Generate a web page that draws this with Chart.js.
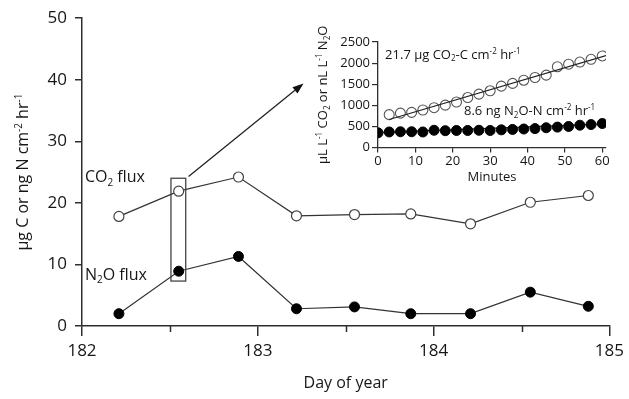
<!DOCTYPE html>
<html><head><meta charset="utf-8">
<script src="https://cdn.jsdelivr.net/npm/chart.js@4.4.0/dist/chart.umd.min.js"></script>
<style>
html,body{margin:0;padding:0;background:#fff;}
#wrap{position:relative;width:629px;height:399px;background:#fff;}
#main{position:absolute;left:0;top:0;}
#inset{position:absolute;left:300px;top:20px;}
</style></head><body>
<div id="wrap"><canvas id="main" width="629" height="399"></canvas><canvas id="inset" width="320" height="180"></canvas></div>
<script>
// ---- main chart data ----
const dayOfYear = [182.21, 182.55, 182.89, 183.22, 183.55, 183.87, 184.21, 184.55, 184.88];
const co2Flux   = [17.8, 21.9, 24.2, 17.9, 18.1, 18.2, 16.6, 20.1, 21.2];
const n2oFlux   = [2.0, 8.9, 11.3, 2.8, 3.1, 2.0, 2.0, 5.5, 3.2];
const mainXTicks = [182, 183, 184, 185];
const mainXMinorTicks = [182.5, 183.5, 184.5];
const mainYTicks = [0, 10, 20, 30, 40, 50];

// ---- inset data ----
const insetMinutesCO2 = [3, 6, 9, 12, 15, 18, 21, 24, 27, 30, 33, 36, 39, 42, 45, 48, 51, 54, 57, 60];
const insetCO2 = [780, 815, 835, 890, 945, 1005, 1080, 1185, 1265, 1345, 1455, 1520, 1595, 1660, 1715, 1915, 1975, 2025, 2090, 2170];
const insetMinutesN2O = [0, 3, 6, 9, 12, 15, 18, 21, 24, 27, 30, 33, 36, 39, 42, 45, 48, 51, 54, 57, 60];
const insetN2O = [350, 370, 375, 375, 370, 410, 400, 405, 405, 410, 405, 420, 430, 440, 450, 470, 485, 500, 530, 545, 570];
const co2FitMinutes = [3, 61];
const co2FitValues = [665, 2180];
const n2oFitMinutes = [0, 61];
const n2oFitValues = [355, 560];
const insetXTicks = [0, 10, 20, 30, 40, 50, 60];
const insetYTicks = [0, 500, 1000, 1500, 2000, 2500];

const FONT = "'Open Sans', 'Liberation Sans', sans-serif";
const INK = '#161616';
const AXIS = '#2e2e2e';

function pts(xs, ys) { return xs.map((x, i) => ({x: x, y: ys[i]})); }

// rich text: segments [text, mode] mode 0 normal, 1 subscript, 2 superscript
function drawRich(ctx, segs, x, y, size, align) {
  const small = size * 0.62;
  let w = 0;
  segs.forEach(([t, m]) => { ctx.font = (m ? small : size) + 'px ' + FONT; w += ctx.measureText(t).width; });
  let cx = align === 'center' ? x - w / 2 : x;
  ctx.textBaseline = 'alphabetic';
  ctx.textAlign = 'left';
  ctx.fillStyle = INK;
  segs.forEach(([t, m]) => {
    ctx.font = (m ? small : size) + 'px ' + FONT;
    const dy = m === 1 ? size * 0.22 : (m === 2 ? -size * 0.38 : 0);
    ctx.fillText(t, cx, y + dy);
    cx += ctx.measureText(t).width;
  });
}

// ---- main chart annotations (data coords) ----
const mainNotes = {
  co2Label: {x: 182.017, y: 24.3, segs: [['CO', 0], ['2', 1], [' flux', 0]]},
  n2oLabel: {x: 182.017, y: 8.5, segs: [['N', 0], ['2', 1], ['O flux', 0]]},
  box: {x0: 182.506, x1: 182.59, y0: 7.3, y1: 24.0},
  arrow: {x0: 182.606, y0: 24.3, x1: 183.26, y1: 39.4}
};

const mainPlugin = {
  id: 'mainPlugin',
  afterDraw(chart) {
    const ctx = chart.ctx, xs = chart.scales.x, ys = chart.scales.y;
    ctx.save();
    ctx.strokeStyle = AXIS; ctx.lineWidth = 1.5;
    mainXMinorTicks.forEach(v => {
      const px = Math.round(xs.getPixelForValue(v)) + 0.5;
      ctx.beginPath(); ctx.moveTo(px, ys.bottom); ctx.lineTo(px, ys.bottom + 6); ctx.stroke();
    });
    const b = mainNotes.box;
    ctx.lineWidth = 1.3; ctx.strokeStyle = '#444';
    const bx0 = xs.getPixelForValue(b.x0), bx1 = xs.getPixelForValue(b.x1);
    const by0 = ys.getPixelForValue(b.y0), by1 = ys.getPixelForValue(b.y1);
    ctx.strokeRect(bx0, by1, bx1 - bx0, by0 - by1);
    const a = mainNotes.arrow;
    const ax0 = xs.getPixelForValue(a.x0), ay0 = ys.getPixelForValue(a.y0);
    const ax1 = xs.getPixelForValue(a.x1), ay1 = ys.getPixelForValue(a.y1);
    const ang = Math.atan2(ay1 - ay0, ax1 - ax0);
    const hl = 11, hw = 4;
    ctx.strokeStyle = '#222'; ctx.lineWidth = 1.3;
    ctx.beginPath(); ctx.moveTo(ax0, ay0);
    ctx.lineTo(ax1 - hl * Math.cos(ang), ay1 - hl * Math.sin(ang)); ctx.stroke();
    ctx.fillStyle = '#111';
    ctx.beginPath();
    ctx.moveTo(ax1, ay1);
    ctx.lineTo(ax1 - hl * Math.cos(ang) + hw * Math.sin(ang), ay1 - hl * Math.sin(ang) - hw * Math.cos(ang));
    ctx.lineTo(ax1 - hl * Math.cos(ang) - hw * Math.sin(ang), ay1 - hl * Math.sin(ang) + hw * Math.cos(ang));
    ctx.closePath(); ctx.fill();
    [mainNotes.co2Label, mainNotes.n2oLabel].forEach(l => {
      drawRich(ctx, l.segs, xs.getPixelForValue(l.x), ys.getPixelForValue(l.y) + 6, 16, 'left');
    });
    ctx.translate(22, (ys.top + ys.bottom) / 2);
    ctx.rotate(-Math.PI / 2);
    drawRich(ctx, [['μg C or ng N cm', 0], ['-2', 2], [' hr', 0], ['-1', 2]], 0, 6, 16, 'center');
    ctx.restore();
  }
};

new Chart(document.getElementById('main'), {
  type: 'scatter',
  data: {datasets: [
    {data: pts(dayOfYear, co2Flux), showLine: true, borderColor: '#333', borderWidth: 1.2,
     pointRadius: 5, pointBackgroundColor: '#fff', pointBorderColor: '#444', pointBorderWidth: 1.2},
    {data: pts(dayOfYear, n2oFlux), showLine: true, borderColor: '#333', borderWidth: 1.2,
     pointRadius: 5, pointBackgroundColor: '#000', pointBorderColor: '#000', pointBorderWidth: 1}
  ]},
  options: {
    responsive: false, animation: false, devicePixelRatio: 1,
    layout: {padding: {top: 15, right: 16, left: 0, bottom: 0}},
    plugins: {legend: {display: false}, tooltip: {enabled: false}},
    scales: {
      x: {type: 'linear', min: 182, max: 185,
        afterBuildTicks: s => { s.ticks = mainXTicks.map(v => ({value: v})); },
        grid: {drawOnChartArea: false, tickLength: 10, color: AXIS, lineWidth: 1.5},
        border: {color: AXIS, width: 1.5},
        ticks: {font: {family: FONT, size: 17}, color: INK, padding: 5, maxRotation: 0, callback: v => String(v)},
        title: {display: true, text: 'Day of year', font: {family: FONT, size: 16}, color: INK, padding: {top: 0, bottom: 6}},
        afterFit: s => { s.height = 73; }
      },
      y: {type: 'linear', min: 0, max: 50,
        afterBuildTicks: s => { s.ticks = mainYTicks.map(v => ({value: v})); },
        grid: {drawOnChartArea: false, tickLength: 7, color: AXIS, lineWidth: 1.5},
        border: {color: AXIS, width: 1.5},
        ticks: {font: {family: FONT, size: 17}, color: INK, padding: 8, callback: v => String(v)},
        afterFit: s => { s.width = 82; }
      }
    }
  },
  plugins: [mainPlugin]
});

// ---- inset ----
const insetNotes = {
  co2Rate: {x: 1.9, y: 2225, segs: [['21.7 μg CO', 0], ['2', 1], ['-C cm', 0], ['-2', 2], [' hr', 0], ['-1', 2]]},
  n2oRate: {x: 23, y: 880, segs: [['8.6 ng N', 0], ['2', 1], ['O-N cm', 0], ['-2', 2], [' hr', 0], ['-1', 2]]}
};

const insetPlugin = {
  id: 'insetPlugin',
  afterDraw(chart) {
    const ctx = chart.ctx, xs = chart.scales.x, ys = chart.scales.y;
    ctx.save();
    [insetNotes.co2Rate, insetNotes.n2oRate].forEach(l => {
      drawRich(ctx, l.segs, xs.getPixelForValue(l.x), ys.getPixelForValue(l.y) + 5, 13, 'left');
    });
    ctx.translate(22, (ys.top + ys.bottom) / 2);
    ctx.rotate(-Math.PI / 2);
    drawRich(ctx, [['μL L', 0], ['-1', 2], [' CO', 0], ['2', 1], [' or nL L', 0], ['-1', 2], [' N', 0], ['2', 1], ['O', 0]], 0, 5, 13, 'center');
    ctx.restore();
  }
};

new Chart(document.getElementById('inset'), {
  type: 'scatter',
  data: {datasets: [
    {order: 0, data: pts(co2FitMinutes, co2FitValues), showLine: true, borderColor: '#222', borderWidth: 1.2, pointRadius: 0},
    {order: 1, data: pts(insetMinutesCO2, insetCO2), showLine: false,
     pointRadius: 5, pointBackgroundColor: 'rgba(255,255,255,0)', pointBorderColor: '#555', pointBorderWidth: 1.1},
    {order: 2, data: pts(insetMinutesN2O, insetN2O), showLine: false,
     pointRadius: 5, pointBackgroundColor: '#000', pointBorderColor: '#000', pointBorderWidth: 1},
    {order: 3, data: pts(n2oFitMinutes, n2oFitValues), showLine: true, borderColor: '#222', borderWidth: 1.2, pointRadius: 0}
  ]},
  options: {
    responsive: false, animation: false, devicePixelRatio: 1,
    layout: {padding: {top: 22, right: 14, left: 0, bottom: 0}},
    plugins: {legend: {display: false}, tooltip: {enabled: false}},
    scales: {
      x: {type: 'linear', min: 0, max: 61,
        afterBuildTicks: s => { s.ticks = insetXTicks.map(v => ({value: v})); },
        grid: {drawOnChartArea: false, tickLength: 5, color: AXIS, lineWidth: 1.2},
        border: {color: AXIS, width: 1.3},
        ticks: {font: {family: FONT, size: 13}, color: INK, padding: 1, maxRotation: 0, callback: v => String(v)},
        title: {display: true, text: 'Minutes', font: {family: FONT, size: 13}, color: INK, padding: {top: 0, bottom: 15}},
        afterFit: s => { s.height = 52.4; }
      },
      y: {type: 'linear', min: 0, max: 2500,
        afterBuildTicks: s => { s.ticks = insetYTicks.map(v => ({value: v})); },
        grid: {drawOnChartArea: false, tickLength: 6, color: AXIS, lineWidth: 1.2},
        border: {color: AXIS, width: 1.3},
        ticks: {font: {family: FONT, size: 13}, color: INK, padding: 2, callback: v => String(v)},
        afterFit: s => { s.width = 78; }
      }
    }
  },
  plugins: [insetPlugin]
});
</script>
</body></html>
